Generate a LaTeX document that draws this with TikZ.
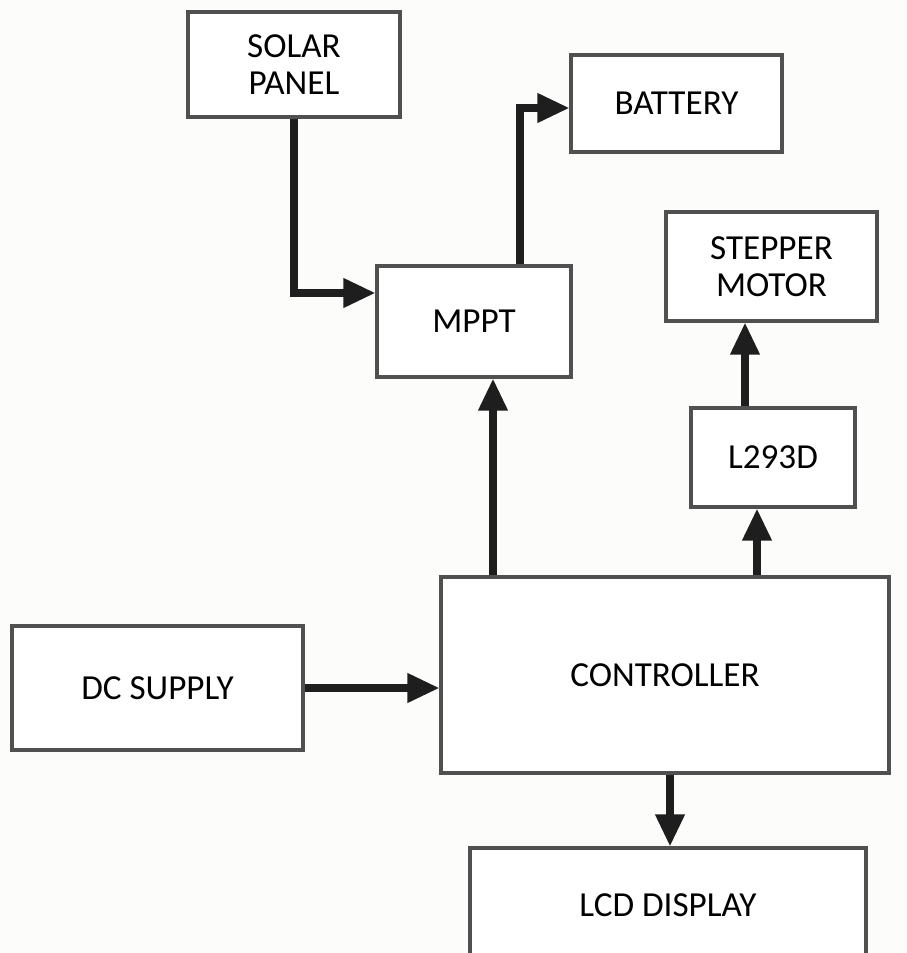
\documentclass[tikz,border=0pt]{standalone}
\usepackage{fontspec}
\setmainfont{Carlito}
\usetikzlibrary{arrows.meta}
\definecolor{boxgray}{HTML}{505050}
\definecolor{linegray}{HTML}{1E1E1E}
\definecolor{paper}{HTML}{FCFCFA}

\begin{document}
\begin{tikzpicture}[
    blk/.style={draw=boxgray, line width=0.9pt, fill=white, align=center, inner sep=0pt,
                font=\fontsize{10}{10.5}\selectfont},
    arr/.style={-{Triangle[length=3.2mm, width=2.8mm]}, line width=2pt, draw=linegray}]
    \clip (0,0) rectangle (9.07,-9.53);
    \fill[paper] (0,0) rectangle (9.07,-9.53);

    \node[blk, minimum width=2.12cm, minimum height=1.05cm] (solar) at (2.94,-0.645) {SOLAR\\PANEL};
    \node[blk, minimum width=2.11cm, minimum height=0.97cm] (battery) at (6.765,-1.035) {BATTERY};
    \node[blk, minimum width=2.11cm, minimum height=1.09cm] (stepper) at (7.715,-2.665) {STEPPER\\MOTOR};
    \node[blk, minimum width=1.94cm, minimum height=1.11cm] (mppt) at (4.74,-3.215) {MPPT};
    \node[blk, minimum width=1.64cm, minimum height=0.99cm] (driver) at (7.73,-4.575) {L293D};
    \node[blk, minimum width=4.48cm, minimum height=1.96cm] (ctrl) at (6.65,-6.75) {CONTROLLER};
    \node[blk, minimum width=2.91cm, minimum height=1.24cm] (dc) at (1.575,-6.88) {DC SUPPLY};
    \node[blk, minimum width=3.96cm, minimum height=1.15cm] (lcd) at (6.68,-9.055) {LCD DISPLAY};

    % entry points on the box edges
    \coordinate (mIn) at ([xshift=1.9mm]mppt.south);
    \coordinate (dIn) at ([xshift=-1.6mm]driver.south);
    \coordinate (sIn) at ([xshift=-2.65mm]stepper.south);
    \coordinate (lIn) at ([xshift=0.2mm]lcd.north);

    \draw[arr] (solar.south) |- ([yshift=2.85mm]mppt.west);
    \draw[arr] ([xshift=4.6mm]mppt.north) |- ([yshift=-0.45mm]battery.west);
    \draw[arr] (mIn |- ctrl.north) -- (mIn);
    \draw[arr] (dIn |- ctrl.north) -- (dIn);
    \draw[arr] (sIn |- driver.north) -- (sIn);
    \draw[arr] (dc.east) -- (dc.east -| ctrl.west);
    \draw[arr] (lIn |- ctrl.south) -- (lIn);
\end{tikzpicture}
\end{document}
